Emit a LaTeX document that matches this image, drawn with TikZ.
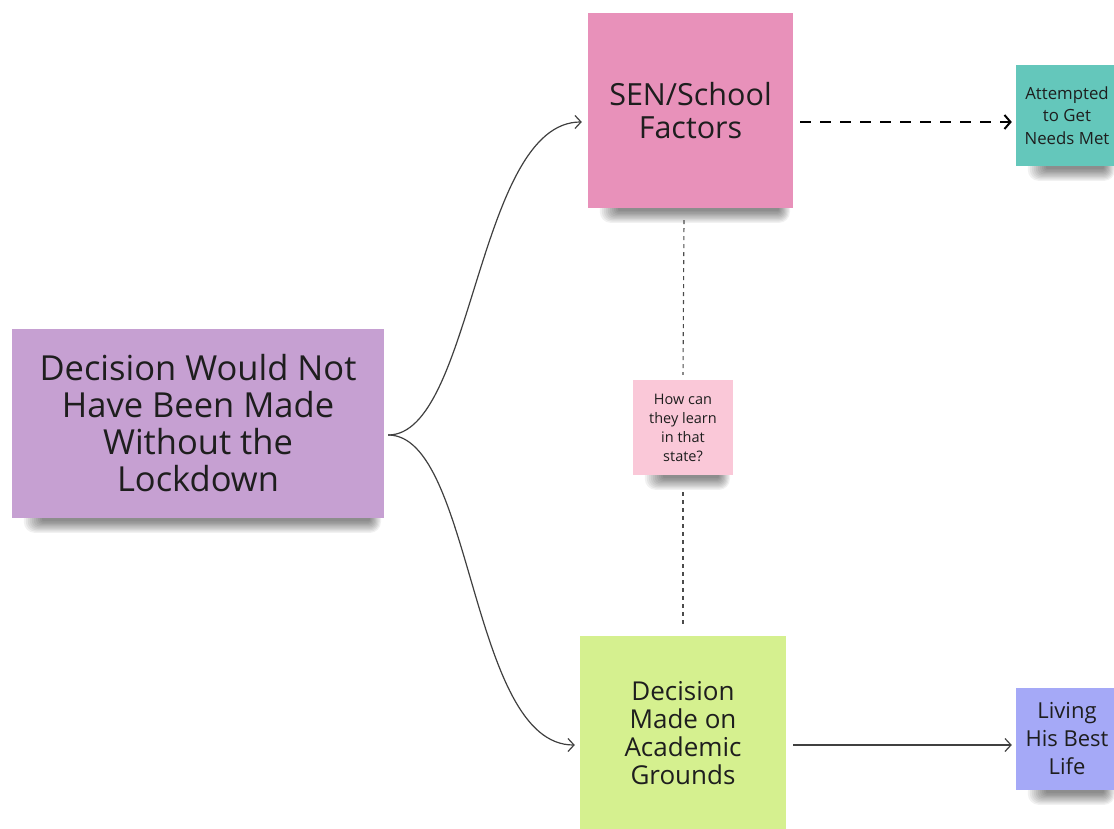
\documentclass[tikz,border=0pt]{standalone}
\usepackage{fontspec}
\setmainfont{Open Sans}
\usetikzlibrary{arrows.meta,backgrounds}
\definecolor{notepurple}{HTML}{C6A0D2}
\definecolor{notepink}{HTML}{E891BA}
\definecolor{noteteal}{HTML}{64C7BB}
\definecolor{notelight}{HTML}{FAC8D8}
\definecolor{notegreen}{HTML}{D5F08F}
\definecolor{noteblue}{HTML}{A5A9F7}
\definecolor{inkdark}{HTML}{1E1E1E}
\tikzset{
  sticky/.style={draw=none, inner sep=0pt, align=center, text=inkdark},
  link/.style={draw=inkdark!85, line width=1.2pt, -{Straight Barb[length=6pt,width=13pt]}},
  dashlink/.style={draw=black, line width=2.4pt, dash pattern=on 11pt off 9pt,
    -{Straight Barb[length=6pt,width=14pt,line width=2pt]}},
  dotlink/.style={draw=inkdark!80, line width=1.1pt, dash pattern=on 4pt off 4pt}
}
% soft drop shadow under the lower edge of a sticky note
\newcommand{\notedrop}[1]{%
  \begin{scope}[on background layer]
    \foreach \i in {0,...,9}{
      \fill[black, opacity=0.055, rounded corners=(2+\i)*1pt]
        ([xshift={(30-2*\i)*1pt}, yshift=10pt]#1.south west)
        rectangle ([xshift={(-14+1.2*\i)*1pt}, yshift={(-3-1.3*\i)*1pt}]#1.south east);
    }
  \end{scope}}
\begin{document}
\begin{tikzpicture}[x=1pt,y=-1pt]
\useasboundingbox (0,0) rectangle (1114,829);
\begin{scope}[on background layer]
\fill[white] (0,0) rectangle (1114,829);
\end{scope}
\begin{scope}
\clip (0,0) rectangle (1114,829);
% sticky notes
\node[sticky, fill=notepurple, minimum width=372pt, minimum height=189pt,
  font=\fontsize{34.5}{37}\selectfont] (lock) at (198,423.5)
  {Decision Would Not\\Have Been Made\\Without the\\Lockdown};
\node[sticky, fill=notepink, minimum width=205pt, minimum height=195pt,
  font=\fontsize{30.5}{33}\selectfont] (sen) at (690.5,110.5)
  {SEN/School\\Factors};
\node[sticky, fill=noteteal, minimum width=102pt, minimum height=101pt,
  font=\fontsize{16.8}{22.5}\selectfont] (need) at (1067,115.5)
  {Attempted\\to Get\\Needs Met};
\node[sticky, fill=notelight, minimum width=100pt, minimum height=95pt,
  font=\fontsize{14.5}{19}\selectfont] (learn) at (683,427.5)
  {How can\\they learn\\in that\\state?};
\node[sticky, fill=notegreen, minimum width=206pt, minimum height=194pt,
  font=\fontsize{26}{28}\selectfont] (acad) at (683,733)
  {Decision\\Made on\\Academic\\Grounds};
\node[sticky, fill=noteblue, minimum width=102pt, minimum height=102pt,
  font=\fontsize{22}{28}\selectfont] (best) at (1067,739)
  {Living\\His Best\\Life};
\notedrop{lock}
\notedrop{sen}
\notedrop{need}
\notedrop{learn}
\notedrop{best}
\end{scope}
% connectors
\draw[link] ([xshift=4pt,yshift=-11.5pt]lock.east)
  .. controls +(85,0) and +(-105,0) .. ([xshift=-6pt,yshift=-11.5pt]sen.west);
\draw[link] ([xshift=4pt,yshift=-11.5pt]lock.east)
  .. controls +(85,0) and +(-105,0) .. ([xshift=-5pt,yshift=-12pt]acad.west);
\draw[dashlink] ([xshift=7pt,yshift=-11.5pt]sen.east) -- ([xshift=-4pt,yshift=-6.5pt]need.west);
\draw[link] ([xshift=7pt,yshift=-12pt]acad.east) -- ([xshift=-4pt,yshift=-6pt]best.west);
\draw[dotlink] ([xshift=-6.5pt,yshift=-12pt]sen.south) -- ([yshift=5pt]learn.north);
\draw[dotlink] ([yshift=-17pt]learn.south) -- ([yshift=9pt]acad.north);
\end{tikzpicture}
\end{document}
